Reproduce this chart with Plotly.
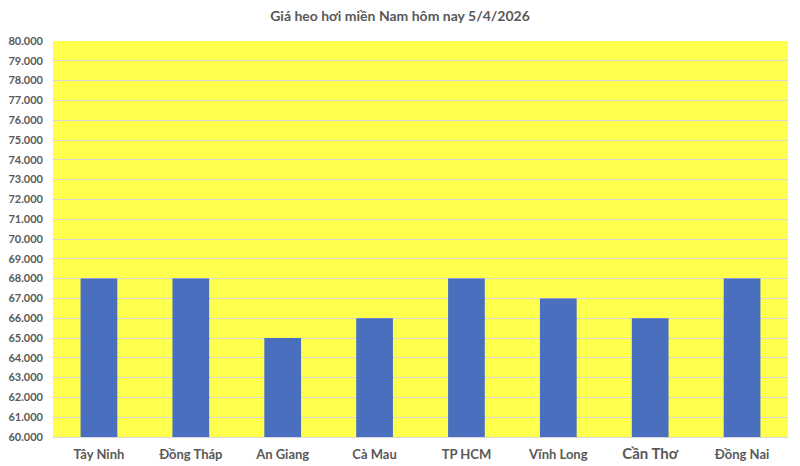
import plotly.graph_objects as go

provinces = ["Tây Ninh", "Đồng Tháp", "An Giang", "Cà Mau", "TP HCM", "Vĩnh Long", "Cần Thơ", "Đồng Nai"]
prices = [68000, 68000, 65000, 66000, 68000, 67000, 66000, 68000]

tick_vals = list(range(60000, 80001, 1000))
tick_text = [f"<b>{v // 1000}.000</b>" for v in tick_vals]

# "Cần Thơ" is drawn in a larger font in the original chart
x_text = [f"<span style='font-size:15px'><b>{p}</b></span>" if p == "Cần Thơ" else f"<b>{p}</b>"
          for p in provinces]

fig = go.Figure()
fig.add_trace(go.Bar(
    x=provinces, y=prices,
    marker=dict(color="#4A6FBF", line=dict(width=0)),
))

# page body has an 8px margin, so the figure is offset by 8px
fig.update_layout(
    width=784, height=458,
    title=dict(text="<b>Giá heo hơi miền Nam hôm nay 5/4/2026</b>", x=0.5, xanchor="center",
               y=0.9825, yanchor="middle", font=dict(size=14, color="#595959")),
    paper_bgcolor="white",
    plot_bgcolor="#FFFF4D",
    font=dict(family="Lato, Open Sans, sans-serif", color="#595959", size=11),
    margin=dict(l=45, r=4, t=33, b=21 + 8, autoexpand=False),
    bargap=0.6,
    showlegend=False,
)
fig.update_xaxes(showgrid=False, showline=True, linecolor="#D9D9D9", ticks="",
                 tickvals=provinces, ticktext=x_text, automargin=False,
                 tickfont=dict(size=13, color="#595959"), ticklabelstandoff=5)
fig.update_yaxes(range=[60000, 80000], tickvals=tick_vals, ticktext=tick_text,
                 showgrid=True, gridcolor="#D9D9D9", gridwidth=1, zeroline=False,
                 automargin=False,
                 tickfont=dict(size=11, color="#595959"), ticks="", ticklabelstandoff=9)

fig.write_html("out.html")
